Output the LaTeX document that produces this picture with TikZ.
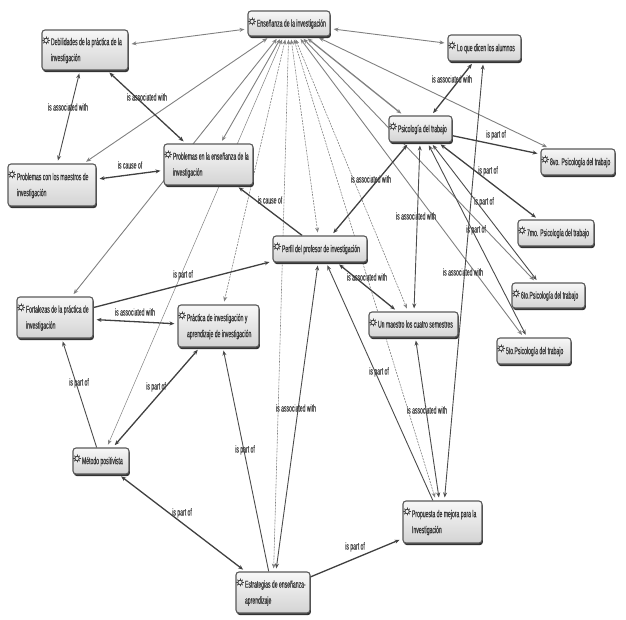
\documentclass[tikz,border=0pt]{standalone}
\usepackage{fontspec}
\setmainfont[FakeStretch=0.51,FakeBold=0.25]{Liberation Sans}
\usetikzlibrary{arrows.meta,backgrounds,calc,shadows}
\newcommand{\ctext}[1]{\makebox[\boxw][l]{\hspace{9pt}\begin{tabular}[c]{@{}l@{}}#1\end{tabular}}}
\tikzset{
  concept/.style 2 args={draw=black!65,line width=1.1pt,rounded corners=3pt,
    top color=black!3,bottom color=black!17,
    general shadow={fill=black!80,shadow xshift=0.9pt,shadow yshift=-2.1pt},
    minimum width=#1pt,minimum height=#2pt,inner sep=0pt,
    text=black!80,font=\fontsize{10}{16}\selectfont,
    execute at begin node={\def\boxw{#1pt}}},
  gear/.style={draw=black!75,line width=0.8pt},
  rel/.style={text=black!75,font=\fontsize{10}{12}\selectfont,inner sep=0pt},
  link/.style={>={Stealth[length=5pt,width=4pt]},shorten >=3pt,shorten <=3pt},
  strong/.style={link,black!75,line width=1.3pt},
  plain/.style={link,black!70,line width=0.9pt},
  pale/.style={link,black!50,line width=0.9pt},
  paledash/.style={link,black!50,line width=0.6pt,dash pattern=on 2pt off 1pt},
}
\begin{document}
\begin{tikzpicture}[x=1pt,y=-1pt,line cap=round]
  \useasboundingbox (0,0) rectangle (626,620);
  % conceptos
  \node[concept={82}{25}] (ens) at (289,23.5) {\ctext{Enseñanza de la investigación}};
  \node[concept={86}{40}] (deb) at (85,50) {\ctext{Debilidades de la práctica de la\\investigación}};
  \node[concept={73}{26}] (dicen) at (484.5,48) {\ctext{Lo que dicen los alumnos}};
  \node[concept={63}{26}] (psi) at (420.5,129) {\ctext{Psicología del trabajo}};
  \node[concept={74}{26}] (octavo) at (578,162) {\ctext{8vo. Psicología del trabajo}};
  \node[concept={76}{26}] (septimo) at (556,233) {\ctext{7mo. Psicología del trabajo}};
  \node[concept={73}{25}] (sexto) at (548.5,295.5) {\ctext{6to.Psicología del trabajo}};
  \node[concept={74}{26}] (quinto) at (534,351) {\ctext{5to.Psicología del trabajo}};
  \node[concept={89}{25}] (maestro) at (413.5,324.5) {\ctext{Un maestro los cuatro semestres}};
  \node[concept={94}{26}] (perfil) at (320,249) {\ctext{Perfil del profesor de investigación}};
  \node[concept={89}{41}] (probens) at (208.5,164.5) {\ctext{Problemas en la enseñanza de la\\investigación}};
  \node[concept={88}{42}] (probmae) at (52,185) {\ctext{Problemas con los maestros de\\investigación}};
  \node[concept={76}{41}] (fort) at (55,317.5) {\ctext{Fortalezas de la práctica de\\investigación}};
  \node[concept={81}{42}] (prac) at (218.5,326) {\ctext{Práctica de investigación y\\aprendizaje de investigación}};
  \node[concept={56}{26}] (metodo) at (101,461) {\ctext{Método positivista}};
  \node[concept={74}{41}] (estr) at (273,592.5) {\ctext{Estrategias de enseñanza-\\aprendizaje}};
  \node[concept={79}{42}] (prop) at (442.5,522) {\ctext{Propuesta de mejora para la\\Investigación}};
  % iconos
  \foreach \n in {ens,deb,dicen,psi,octavo,septimo,sexto,quinto,maestro,perfil,probens,probmae,fort,prac,metodo,estr,prop} {
    \begin{scope}[shift={(\n.north west)},gear]
      \draw (4.6,11) circle (2.2);
      \foreach \a in {0,45,...,315}
        \draw (4.6,11) ++(\a:2.2) -- ++(\a:1.4);
    \end{scope}
  }
  % relaciones, por debajo de las cajas
  \begin{scope}[on background layer]
    \foreach \n in {deb,dicen,probmae,fort,probens,octavo,sexto,quinto}
      \draw[pale,<->] (ens) -- (\n);
    \draw[pale,<->,line width=1.3pt] (ens) -- (psi);
    \draw[pale,<->,line width=0.5pt] (ens) -- (metodo);
    \foreach \n in {prac,estr,perfil,maestro,prop}
      \draw[paledash,<->] (ens) -- (\n);
    \draw[plain,<->] (deb) -- (probmae);
    \draw[strong,<->] (deb) -- (probens);
    \draw[strong,<->] (probens) -- (probmae);
    \draw[strong,->,shorten <=0pt] (perfil) -- (probens);
    \draw[strong,->,shorten <=0pt] (fort) -- (perfil);
    \draw[strong,<->] (fort) -- (prac);
    \draw[plain,->,shorten <=0pt] (metodo) -- (fort);
    \draw[strong,<->] (metodo) -- (prac);
    \draw[strong,<->] (metodo) -- (estr);
    \draw[plain,->,shorten <=0pt] (estr) -- (prac);
    \draw[plain,<->] (estr) -- (perfil);
    \draw[strong,->,shorten <=0pt] (estr) -- (prop);
    \draw[plain,->,shorten <=0pt] (prop) -- (perfil);
    \draw[plain,<->] (prop) -- (maestro);
    \draw[plain,<->] (prop) -- (dicen);
    \draw[strong,<->] (perfil) -- (maestro);
    \draw[plain,<->] (maestro) -- (psi);
    \draw[strong,<->] (perfil) -- (psi);
    \draw[strong,<->] (psi) -- (dicen);
    \draw[strong,->,shorten <=0pt] (psi) -- (octavo);
    \draw[strong,<->] (psi) -- (septimo);
    \draw[plain,<->] (psi) -- (sexto);
    \draw[plain,<->] (psi) -- (quinto);
  \end{scope}
  % etiquetas
  \node[rel] (l1) at (68,107) {is associated with};
  \node[rel] (l2) at (147,97) {is associated with};
  \node[rel] (l3) at (130,165) {is cause of};
  \node[rel] (l4) at (270,200) {is cause of};
  \node[rel] (l5) at (183,275) {is part of};
  \node[rel] (l6) at (135,312) {is associated with};
  \node[rel] (l7) at (79,383) {is part of};
  \node[rel] (l8) at (156,387) {is part of};
  \node[rel] (l9) at (182,513) {is part of};
  \node[rel] (l10) at (245,450) {is part of};
  \node[rel] (l11) at (296,408) {is associated with};
  \node[rel] (l12) at (355,547) {is part of};
  \node[rel] (l13) at (379,372) {is part of};
  \node[rel] (l14) at (427,410) {is associated with};
  \node[rel] (l15) at (463,272) {is associated with};
  \node[rel] (l16) at (367,277) {is associated with};
  \node[rel] (l17) at (416,216) {is associated with};
  \node[rel] (l18) at (371,179) {is associated with};
  \node[rel] (l19) at (452,79) {is associated with};
  \node[rel] (l20) at (496,135) {is part of};
  \node[rel] (l21) at (488,171) {is part of};
  \node[rel] (l22) at (484,202) {is part of};
  \node[rel] (l23) at (476,230) {is part of};
\end{tikzpicture}
\end{document}
